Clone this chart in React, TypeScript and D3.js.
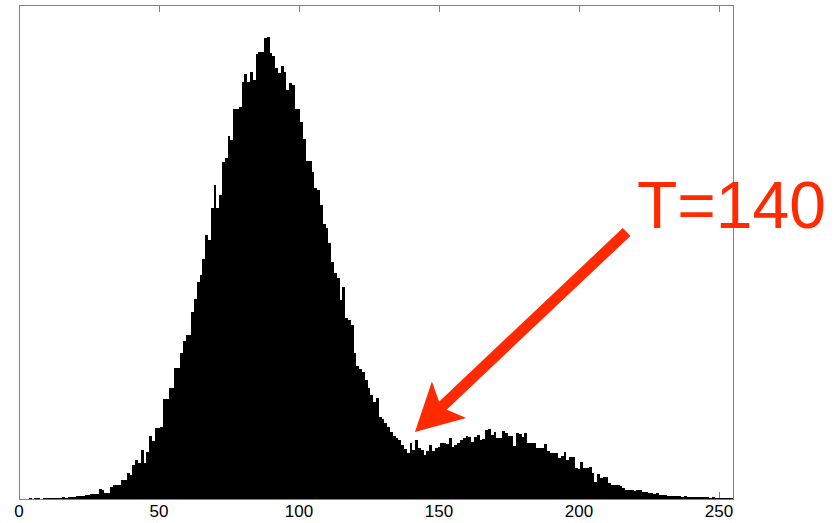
import { useEffect, useRef } from 'react';
import * as d3 from 'd3';

// grey level histogram, 256 bins (counts in arbitrary units)
const grayLevels = d3.range(0, 256);
const counts = [
  0.5, 0.5, 0.5, 0.5, 1, 0.5, 1, 1, 0.5, 1,
  1, 1, 1.5, 1, 1.5, 1.5, 2, 1.5, 2, 2.5,
  2, 3, 3, 3.5, 4, 4.5, 5, 5, 5, 10,
  9, 6, 6, 12, 14, 14, 14, 19, 19, 26,
  24, 34, 39, 36, 49, 36, 47, 63, 58, 71,
  71, 72, 100, 100, 111, 111, 131, 131, 146, 158,
  164, 164, 187, 200, 217, 224, 240, 264, 259, 291,
  314, 291, 304, 337, 341, 363, 359, 390, 390, 392,
  417, 425, 417, 427, 419, 445, 447, 447, 461, 462,
  446, 443, 431, 426, 433, 427, 409, 416, 414, 390,
  390, 377, 360, 338, 338, 327, 311, 309, 294, 275,
  271, 256, 237, 226, 221, 199, 212, 181, 179, 174,
  146, 133, 130, 127, 119, 111, 104, 97, 101, 82,
  80, 76, 72, 67, 63, 61, 59, 54, 50, 46,
  56, 49, 59, 51, 49, 44, 48, 54, 48, 51,
  52, 56, 56, 55, 61, 52, 54, 56, 59, 61,
  63, 62, 57, 62, 64, 59, 60, 69, 70, 64,
  67, 61, 61, 68, 66, 63, 63, 53, 66, 65,
  62, 66, 56, 56, 56, 51, 51, 51, 55, 48,
  46, 46, 46, 41, 43, 47, 39, 42, 42, 31,
  30, 37, 31, 31, 32, 26, 17, 25, 21, 22,
  22, 16, 14, 14, 14, 13, 11, 9, 9, 9,
  8, 9, 9, 7, 7, 6, 6, 5, 6, 4,
  4, 4, 3, 3.5, 3, 3, 3, 2.5, 3, 2.5,
  2.5, 2.5, 2, 2.5, 2, 2, 2, 1.5, 2, 1.5,
  1.5, 1.5, 1.5, 1.5, 1, 1,
];
const xTicks = [0, 50, 100, 150, 200, 250];

// threshold annotation
const annotationText = 'T=140';
const arrowTail = { level: 217, count: 267 };
const arrowTip = { level: 141.4, count: 67 };
const labelAnchor = { level: 220.7, count: 271 };

export default function App() {
  const svgRef = useRef<SVGSVGElement>(null);

  useEffect(() => {
    const width = 835;
    const height = 523;
    const margin = { top: 5, right: 102, bottom: 24, left: 19 };
    const axisColor = '#7f7f7f';
    const red = '#ff2a00';

    const x = d3
      .scaleLinear()
      .domain([0, 255])
      .range([margin.left, width - margin.right]);

    const y = d3
      .scaleLinear()
      .domain([0, 494])
      .range([height - margin.bottom, margin.top]);

    const svg = d3.select(svgRef.current);
    svg.selectAll('*').remove();

    svg
      .append('defs')
      .append('clipPath')
      .attr('id', 'plot-clip')
      .append('rect')
      .attr('x', x(0))
      .attr('y', y(494))
      .attr('width', x(255) - x(0))
      .attr('height', y(0) - y(494));

    // tick marks (inside, top and bottom) - drawn under the bars
    const ticks = svg.append('g').attr('stroke', axisColor).attr('stroke-width', 1);
    xTicks.forEach(t => {
      const px = Math.round(x(t)) + 0.5;
      ticks.append('line').attr('x1', px).attr('x2', px).attr('y1', y(494)).attr('y2', y(494) + 7);
      ticks.append('line').attr('x1', px).attr('x2', px).attr('y1', y(0)).attr('y2', y(0) - 7);
    });

    // Bars
    svg
      .append('g')
      .attr('clip-path', 'url(#plot-clip)')
      .selectAll('rect')
      .data(grayLevels)
      .enter()
      .append('rect')
      .attr('x', d => x(d - 0.5))
      .attr('y', d => y(counts[d]))
      .attr('width', d => x(d + 0.5) - x(d - 0.5))
      .attr('height', d => y(0) - y(counts[d]))
      .attr('fill', '#000')
      .attr('shape-rendering', 'crispEdges');

    // Axes box
    svg
      .append('rect')
      .attr('x', x(0) + 0.5)
      .attr('y', y(494) + 0.5)
      .attr('width', x(255) - x(0))
      .attr('height', y(0) - y(494))
      .attr('fill', 'none')
      .attr('stroke', axisColor)
      .attr('stroke-width', 1);

    // X tick labels
    svg
      .append('g')
      .selectAll('text')
      .data(xTicks)
      .enter()
      .append('text')
      .attr('x', d => x(d))
      .attr('y', 517)
      .attr('text-anchor', 'middle')
      .style('font-family', '"Liberation Sans", Arial, Helvetica, sans-serif')
      .style('font-size', '17px')
      .text(d => d);

    // Arrow
    const tail: [number, number] = [x(arrowTail.level), y(arrowTail.count)];
    const tip: [number, number] = [x(arrowTip.level), y(arrowTip.count)];
    const dx = tip[0] - tail[0];
    const dy = tip[1] - tail[1];
    const len = Math.hypot(dx, dy);
    const ux = dx / len;
    const uy = dy / len;
    const px = -uy;
    const py = ux;
    const headLen = 47;
    const headHalf = 25;
    const notchBack = 36;
    const notch: [number, number] = [tip[0] - ux * notchBack, tip[1] - uy * notchBack];

    svg
      .append('line')
      .attr('x1', tail[0])
      .attr('y1', tail[1])
      .attr('x2', notch[0] + ux * 2)
      .attr('y2', notch[1] + uy * 2)
      .attr('stroke', red)
      .attr('stroke-width', 11);

    const head = [
      tip,
      [tip[0] - ux * headLen + px * headHalf, tip[1] - uy * headLen + py * headHalf],
      notch,
      [tip[0] - ux * headLen - px * headHalf, tip[1] - uy * headLen - py * headHalf],
    ] as [number, number][];

    svg
      .append('path')
      .attr('d', d3.line()(head) + 'Z')
      .attr('fill', red);

    svg
      .append('text')
      .attr('x', x(labelAnchor.level))
      .attr('y', y(labelAnchor.count))
      .attr('fill', red)
      .style('font-family', '"Liberation Sans", Arial, Helvetica, sans-serif')
      .style('font-size', '66px')
      .text(annotationText);
  }, []);

  return (
    <svg
      ref={svgRef}
      width={835}
      height={523}
      style={{ position: 'absolute', left: 0, top: 0, background: '#fff' }}
    ></svg>
  );
}
